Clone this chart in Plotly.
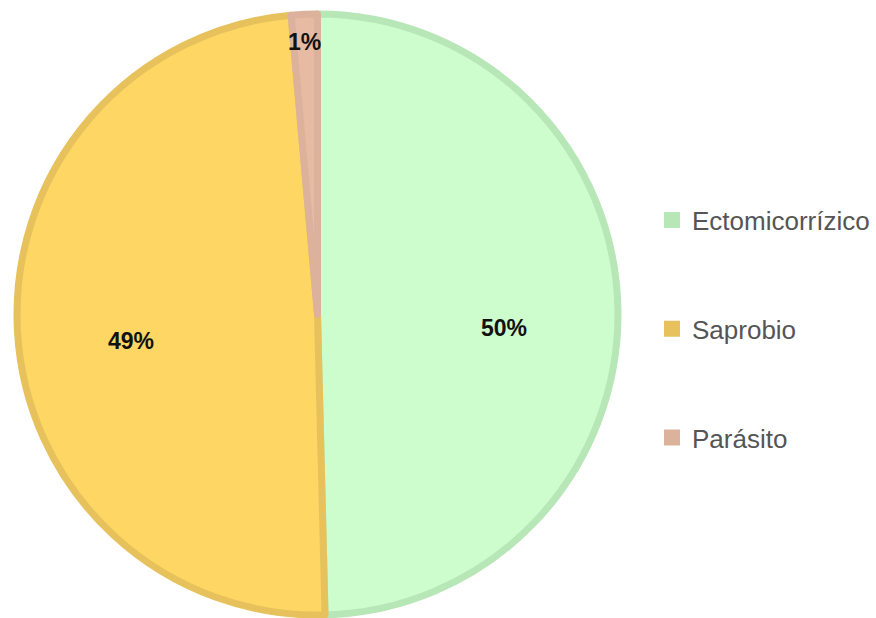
import math
import plotly.graph_objects as go

categories = ["Ectomicorrízico", "Saprobio", "Parásito"]
values = [49.6, 49.0, 1.4]
fill_colors = ["#cdfccd", "#fdd663", "#e7baa3"]
border_colors = ["#b7e6b7", "#e7c25c", "#ddb29c"]
label_radius = [0.62, 0.62, 0.96]   # radial position of each percent label (fraction of radius)

W, H = 876, 618
cx, cy, r = 317.5, 314.5, 300.5

fig = go.Figure()
fig.add_trace(go.Pie(
    labels=categories,
    values=values,
    sort=False,
    direction="clockwise",
    rotation=0,
    marker=dict(colors=fill_colors, line=dict(color=border_colors, width=7)),
    textinfo="none",
    showlegend=False,
    hoverinfo="label+percent",
    domain=dict(x=[(cx - r) / W, (cx + r) / W], y=[(H - cy - r) / H, (H - cy + r) / H]),
))

# percent labels placed at each slice's mid-angle
total = sum(values)
cum = 0.0
for v, rf in zip(values, label_radius):
    mid = (cum + v / 2) / total * 2 * math.pi
    cum += v
    px = cx + rf * r * math.sin(mid)
    py = cy - rf * r * math.cos(mid) + 16
    fig.add_annotation(
        x=px / W, y=1 - py / H, xref="paper", yref="paper",
        text=f"<b>{round(v / total * 100)}%</b>", showarrow=False,
        xanchor="center", yanchor="middle",
        font=dict(family="Liberation Sans, Arial", size=23, color="#111111"),
    )

for name, col in zip(categories, border_colors):
    fig.add_trace(go.Scatter(
        x=[None], y=[None], mode="markers", name=name, legendgroup=name,
        marker=dict(symbol="square", size=17, color=col, line=dict(width=0)),
        showlegend=True,
    ))

fig.update_layout(
    width=W, height=H,
    margin=dict(l=0, r=0, t=0, b=0),
    paper_bgcolor="white", plot_bgcolor="white",
    xaxis=dict(visible=False), yaxis=dict(visible=False),
    legend=dict(
        x=652 / W, xanchor="left", y=1 - 329 / H, yanchor="middle",
        font=dict(family="Liberation Sans, Arial", size=26, color="#555555"),
        tracegroupgap=72, itemsizing="trace",
        bgcolor="rgba(0,0,0,0)",
    ),
)

fig.write_html("out.html")
